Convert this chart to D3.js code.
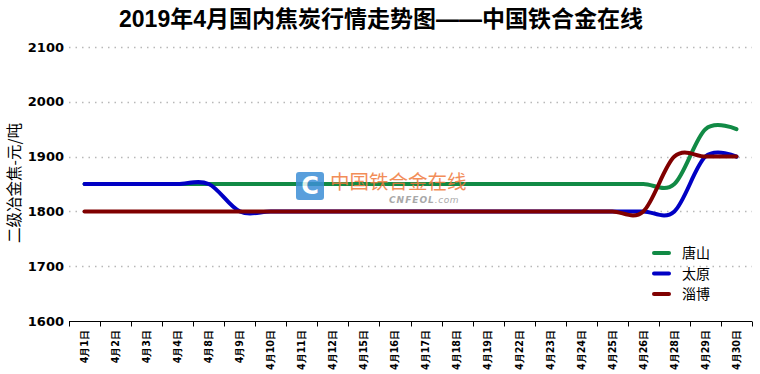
<!DOCTYPE html>
<html><head><meta charset="utf-8">
<script src="https://cdn.jsdelivr.net/npm/d3@7"></script>
<style>
html,body{margin:0;padding:0;background:#fff;}
svg{display:block;}
</style></head>
<body>
<svg id="c" width="760" height="374"></svg>
<script>
const categories = ["4月1日","4月2日","4月3日","4月4日","4月8日","4月9日","4月10日","4月11日","4月12日","4月15日","4月16日","4月17日","4月18日","4月19日","4月22日","4月23日","4月24日","4月25日","4月26日","4月28日","4月29日","4月30日"];
const tangshan = [1850,1850,1850,1850,1850,1850,1850,1850,1850,1850,1850,1850,1850,1850,1850,1850,1850,1850,1850,1850,1950,1950];
const taiyuan  = [1850,1850,1850,1850,1850,1800,1800,1800,1800,1800,1800,1800,1800,1800,1800,1800,1800,1800,1800,1800,1900,1900];
const zibo     = [1800,1800,1800,1800,1800,1800,1800,1800,1800,1800,1800,1800,1800,1800,1800,1800,1800,1800,1800,1900,1900,1900];
const seriesNames = ["唐山","太原","淄博"];
const seriesColors = ["#118a45","#0000c4","#800000"];
const yTicks = [1600,1700,1800,1900,2000,2100];
const titleText = "2019年4月国内焦炭行情走势图——中国铁合金在线";
const yTitle = "二级冶金焦-元/吨";

const svg = d3.select("#c");
const L = 69, R = 752, T = 47, B = 321;
const x = d3.scaleBand().domain(categories).range([L, R]);
const y = d3.scaleLinear().domain([1600, 2100]).range([B, T]);

// title
svg.append("text").attr("x", 381).attr("y", 27).attr("text-anchor", "middle")
  .attr("font-family", "'Liberation Sans','Noto Sans CJK SC',sans-serif")
  .attr("font-weight", "bold").attr("font-size", 23).attr("fill", "#000").text(titleText);

// gridlines
svg.append("g").selectAll("line").data(yTicks.filter(d => d !== 1600)).join("line")
  .attr("x1", L).attr("x2", R).attr("y1", d => Math.round(y(d)) + 0.5).attr("y2", d => Math.round(y(d)) + 0.5)
  .attr("stroke", "#b8b8b8").attr("stroke-width", 1.5).attr("stroke-dasharray", "1.5,5");

// y tick labels
svg.append("g").selectAll("text").data(yTicks).join("text")
  .attr("x", 64).attr("y", d => y(d)).attr("dy", "0.36em").attr("text-anchor", "end")
  .attr("font-family", "'DejaVu Sans',Verdana,sans-serif").attr("font-weight", "bold")
  .attr("font-size", 13).attr("fill", "#000").text(d => d);

// y title
svg.append("text").attr("transform", "translate(20,183) rotate(-90)").attr("text-anchor", "middle")
  .attr("font-family", "'Noto Sans CJK SC',sans-serif").attr("font-size", 15.5).attr("fill", "#000").text(yTitle);

// x axis
const xAxis = d3.axisBottom(x).tickSize(0).tickFormat("");
const gx = svg.append("g").attr("transform", `translate(0,${B + 0.5})`).call(xAxis);
gx.select(".domain").remove();
gx.append("line").attr("x1", L).attr("x2", R).attr("stroke", "#000").attr("stroke-width", 1.2);
const bounds = categories.map(c => x(c)).concat([R]);
gx.selectAll(".bt").data(bounds).join("line").attr("class", "bt")
  .attr("x1", d => Math.round(d) + 0.5).attr("x2", d => Math.round(d) + 0.5).attr("y1", 0).attr("y2", 5)
  .attr("stroke", "#000").attr("stroke-width", 1);

svg.append("g").selectAll("text").data(categories).join("text")
  .attr("transform", d => `translate(${x(d) + x.bandwidth() / 2},330) rotate(-90)`)
  .attr("dy", "0.35em").attr("text-anchor", "end")
  .attr("font-family", "'DejaVu Sans',sans-serif").attr("font-weight", "bold")
  .attr("font-size", 9.6).attr("fill", "#000").text(d => d);

// lines
const allSeries = [tangshan, taiyuan, zibo];
const line = d3.line().x((d, i) => x(categories[i]) + x.bandwidth() / 2).y(d => y(d))
  .curve(d3.curveCatmullRom.alpha(0));
svg.append("g").selectAll("path").data(allSeries).join("path")
  .attr("d", d => line(d)).attr("fill", "none")
  .attr("stroke", (d, i) => seriesColors[i]).attr("stroke-width", 4)
  .attr("stroke-linejoin", "round").attr("stroke-linecap", "round");

// watermark
const wm = svg.append("g").attr("opacity", 0.85);
wm.append("rect").attr("x", 296).attr("y", 172).attr("width", 28).attr("height", 28).attr("rx", 3)
  .attr("fill", "#3d8fd6");
wm.append("text").attr("x", 310).attr("y", 194).attr("text-anchor", "middle")
  .attr("font-family", "'DejaVu Sans',sans-serif").attr("font-weight", "bold").attr("font-size", 24)
  .attr("fill", "#fff").text("C");
wm.append("text").attr("x", 330).attr("y", 189)
  .attr("font-family", "'Noto Sans CJK SC',sans-serif").attr("font-size", 19.5)
  .attr("fill", "#f07a3c").text("中国铁合金在线");
const sub = wm.append("text").attr("x", 389).attr("y", 202.5)
  .attr("font-family", "'DejaVu Sans',sans-serif").attr("font-style", "italic")
  .attr("font-size", 9).attr("fill", "#9a9a9a");
sub.append("tspan").attr("font-weight", "bold").attr("letter-spacing", 1).text("CNFEOL");
sub.append("tspan").attr("letter-spacing", 0.5).text(".com");

// legend
const lg = svg.append("g");
seriesNames.forEach((n, i) => {
  const yy = 253 + i * 20.5;
  lg.append("line").attr("x1", 654).attr("x2", 669).attr("y1", yy).attr("y2", yy)
    .attr("stroke", seriesColors[i]).attr("stroke-width", 4).attr("stroke-linecap", "round");
  lg.append("text").attr("x", 682).attr("y", yy).attr("dy", "0.38em")
    .attr("font-family", "'Noto Sans CJK SC',serif").attr("font-size", 14).attr("fill", "#000").text(n);
});
</script>
</body></html>
